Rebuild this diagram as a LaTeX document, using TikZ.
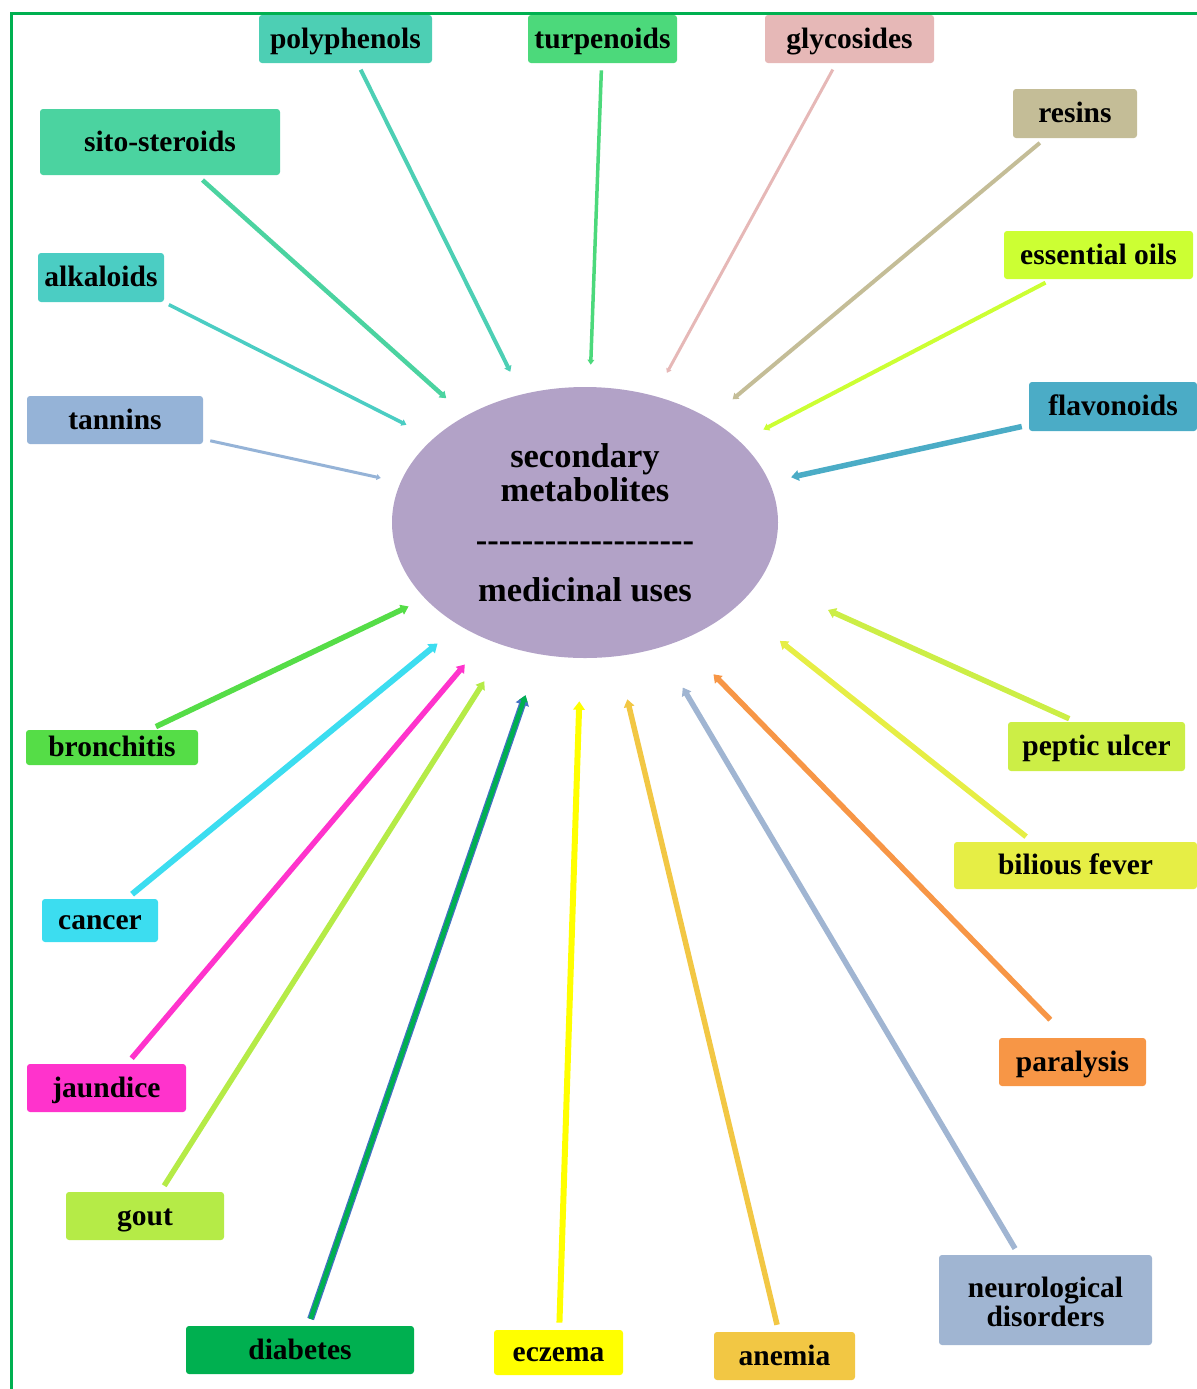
\documentclass[tikz,border=0pt]{standalone}
\usepackage{fontspec}
\setmainfont{Liberation Serif}
\usetikzlibrary{arrows.meta,shapes.geometric}

% fills of the boxes
\definecolor{cPoly}{HTML}{4DCFB4}
\definecolor{cTurp}{HTML}{4CD97B}
\definecolor{cGlyc}{HTML}{E6B8B7}
\definecolor{cResin}{HTML}{C4BD97}
\definecolor{cOils}{HTML}{CCFF33}
\definecolor{cFlav}{HTML}{4BACC6}
\definecolor{cSito}{HTML}{4BD3A0}
\definecolor{cAlka}{HTML}{4BCDC3}
\definecolor{cTann}{HTML}{95B3D7}
\definecolor{cBron}{HTML}{55DD47}
\definecolor{cCanc}{HTML}{3CDDF0}
\definecolor{cJaun}{HTML}{FF33CC}
\definecolor{cGout}{HTML}{B5EB47}
\definecolor{cDiab}{HTML}{00B050}
\definecolor{cEcz}{HTML}{FFFF00}
\definecolor{cAnem}{HTML}{F2C744}
\definecolor{cNeur}{HTML}{A0B5D2}
\definecolor{cPara}{HTML}{F79646}
\definecolor{cBili}{HTML}{E6EE45}
\definecolor{cPept}{HTML}{CCEE46}
\definecolor{cHub}{HTML}{B2A2C7}
\definecolor{cFrame}{HTML}{00B050}
\definecolor{cRim}{HTML}{4472C4}

\begin{document}
\begin{tikzpicture}[
        x=0.5pt, y=-0.5pt,
        box/.style={rectangle, rounded corners=1.5pt, inner sep=0pt, align=center, font=\fontsize{14.75}{14.5}\selectfont\bfseries},
        hub/.style={ellipse, fill=cHub, minimum width=193pt, minimum height=135.5pt, inner sep=0pt, align=center, font=\fontsize{17.25}{17}\selectfont\bfseries},
        link/.style={-{Triangle[length=0pt 1.4, width=0pt 1.9]}},
        frame/.style={draw=cFrame, line width=1.5pt},
        ]
        \useasboundingbox (0,0) rectangle (1197,1389);
        % Frame (left and top edge only)
        \draw[frame] (11,1389) -- (11,13) -- (1197,13);

        % Central ellipse
        \node[hub] (hub) at (585,522.5) {secondary\\metabolites\\[8pt]%
            \foreach \i in {1,...,19}{-\kern0pt}\\[8pt]medicinal uses};

        % Boxes: name/x/y/width/height/fill/text
        \foreach \n/\x/\y/\w/\h/\c/\t in {
            poly/345.5/39/173/48/cPoly/polyphenols, turp/602.5/39/149/48/cTurp/turpenoids,
            glyc/849.5/39/169/48/cGlyc/glycosides, resin/1075/113.5/124/49/cResin/resins,
            oils/1098.5/255/189/48/cOils/essential oils, flav/1113/406.5/168/49/cFlav/flavonoids,
            sito/160/142/240/66/cSito/sito-steroids, alka/101/277.5/126/49/cAlka/alkaloids,
            tann/115/420/176/48/cTann/tannins, % Metabolites
            bron/112/747.5/172/35/cBron/bronchitis, canc/100/920.5/116/43/cCanc/cancer,
            jaun/106.5/1088/159/48/cJaun/jaundice, gout/145/1216/158/48/cGout/gout,
            diab/300/1350/228/48/cDiab/diabetes, ecz/558.5/1352.5/129/45/cEcz/eczema,
            anem/784.5/1356/141/48/cAnem/anemia, neur/1045.5/1300/213/90/cNeur/{neurological\\disorders},
            para/1072.5/1062/147/48/cPara/paralysis, bili/1075.5/865.5/243/47/cBili/bilious fever,
            pept/1096.5/746.5/177/49/cPept/peptic ulcer% Uses
        } {
            \node[box, fill=\c, minimum width=\w*0.5pt, minimum height=\h*0.5pt] (\n) at (\x,\y)
                {\rule[-3.2pt]{0pt}{15.6pt}\t};
        }

        % Connectors: name/box anchor/colour/width/gap at box/hub anchor/gap at hub/rim colour
        \foreach \n/\a/\c/\lw/\sa/\b/\sb/\rc in {
            poly//cPoly/4/7//25/none, turp//cTurp/3.5/7//22/none, glyc//cGlyc/3/7//26/none,
            resin//cResin/4/7//30/none, oils//cOils/4/7//26/none, flav//cFlav/5.5/7//22/none,
            sito//cSito/4.5/7//26/none, alka/.south east/cAlka/3.5/5/.151.4/30/none,
            tann//cTann/3/7//20/none,
            bron//cBron/5.5/7//18/none, canc//cCanc/6/7//28/none, jaun//cJaun/5.5/7//33/none,
            gout//cGout/5.5/7//41/none, diab//cDiab/4.5/7//43/cRim, ecz//cEcz/6/7//43/none,
            anem//cAnem/5.5/7//44/none, neur//cNeur/5.5/7//46/none,
            para/.101.5/cPara/5.5/25/.-51.4/47/none,
            bili/.151/cBili/5.5/8/.-29/55/none, pept/.130/cPept/5.5/7/.-18/74/none% Uses
        } {
            \draw[link, draw=\c, line width=\lw*0.5pt, shorten <=\sa*0.5pt, shorten >=\sb*0.5pt,
                preaction={draw=\rc, line width=7*0.5pt}] (\n\a) -- (hub\b);
        }

    \end{tikzpicture}
\end{document}
